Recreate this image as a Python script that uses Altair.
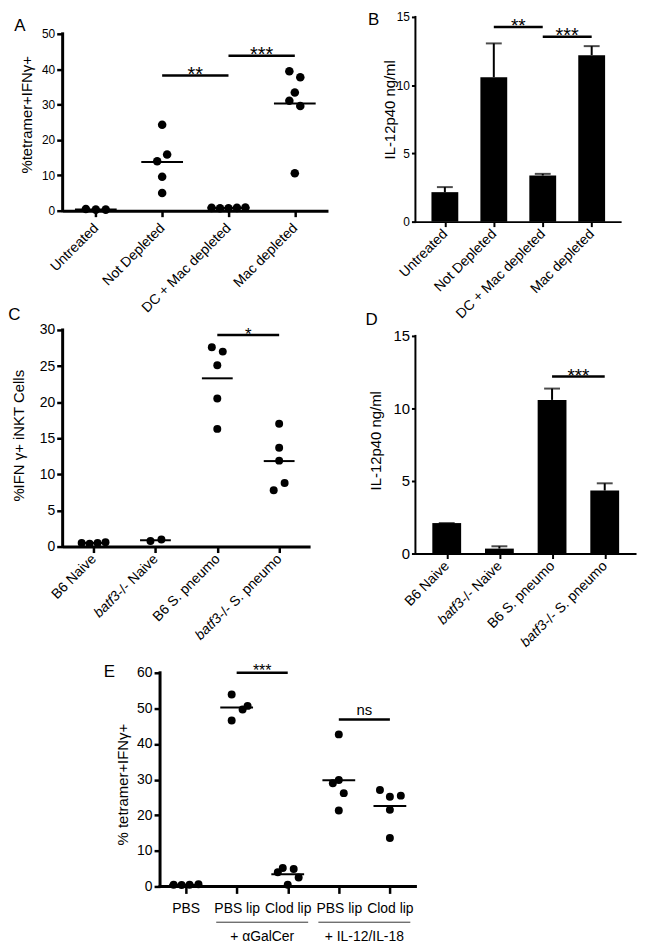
import json
import altair as alt
import pandas as pd

FONT = "Liberation Sans"
K = "#000000"

# ---------------- data ----------------
a_groups = ["Untreated", "Not Depleted", "DC + Mac depleted", "Mac depleted"]
a_values = [[0.5, 0.3, 0.3],
            [24.3, 15.9, 14.0, 9.6, 5.0],
            [0.8, 0.7, 0.7, 0.8, 0.9],
            [39.4, 37.7, 33.4, 31.1, 29.6, 10.6]]
a_slots = [[-1, 0, 1],
           [0, 0.5, -0.5, 0, 0],
           [-1.7, -0.85, 0, 0.85, 1.7],
           [-0.55, 0.55, 0, -0.55, 0.55, 0]]
a_ticks = [0, 10, 20, 30, 40, 50]
a_sig_from = [1, 2]
a_sig_to = [2, 3]
a_sig_y = [38.2, 43.8]
a_sig_text = ["**", "***"]

b_groups = ["Untreated", "Not Depleted", "DC + Mac depleted", "Mac depleted"]
b_means = [2.16, 10.58, 3.38, 12.2]
b_sem = [0.37, 2.48, 0.12, 0.66]
b_ticks = [0, 5, 10, 15]
b_sig_from = [1, 2]
b_sig_to = [2, 3]
b_sig_y = [14.27, 13.55]
b_sig_text = ["**", "***"]

c_groups = ["B6 Naive", "batf3-/- Naive", "B6 S. pneumo", "batf3-/- S. pneumo"]
c_values = [[0.5, 0.4, 0.5, 0.6],
            [0.78, 0.97],
            [27.6, 27.0, 25.1, 20.5, 16.3],
            [17.0, 13.7, 11.9, 8.8, 7.8]]
c_slots = [[-1.2, -0.4, 0.4, 1.2],
           [-0.5, 0.6],
           [-0.55, 0.55, 0, 0, 0],
           [0, 0, 0, 0.55, -0.55]]
c_ticks = [0, 5, 10, 15, 20, 25, 30]
c_sig_from = [2]
c_sig_to = [3]
c_sig_y = [29.3]
c_sig_text = ["*"]

d_groups = ["B6 Naive", "batf3-/- Naive", "B6 S. pneumo", "batf3-/- S. pneumo"]
d_means = [2.1, 0.34, 10.59, 4.34]
d_sem = [0.0, 0.16, 0.78, 0.5]
d_ticks = [0, 5, 10, 15]
d_sig_from = [2]
d_sig_to = [3]
d_sig_y = [12.2]
d_sig_text = ["***"]

e_groups = ["PBS", "PBS lip", "Clod lip", "PBS lip", "Clod lip"]
e_values = [[0.5, 0.4, 0.5, 0.6],
            [53.9, 50.7, 49.7, 46.6],
            [5.2, 4.9, 4.0, 2.5, 0.5],
            [42.7, 29.9, 29.0, 26.2, 21.3],
            [27.1, 25.2, 25.5, 21.5, 13.6]]
e_slots = [[-1.2, -0.4, 0.4, 1.3],
           [-0.5, 1.1, 0.6, -0.5],
           [-0.5, 0.6, -1.0, 1.1, 0],
           [0, 0, -0.6, 0.5, 0],
           [-1.0, 0, 1.1, 0, 0]]
e_ticks = [0, 10, 20, 30, 40, 50, 60]
e_sig_from = [1, 3]
e_sig_to = [2, 4]
e_sig_y = [60.0, 46.9]
e_sig_text = ["***", "ns"]
e_treat_text = ["+ \u03b1GalCer", "+ IL-12/IL-18"]
e_treat_from = [1, 3]
e_treat_to = [2, 4]

ITALIC_PREFIX = "batf3"

# Arial / Liberation Sans advance widths (1/1000 em) for label splitting
ARIAL = {'-': 333, '/': 278, ' ': 278, 'N': 722, 'a': 556, 'i': 222, 'v': 500,
         'e': 556, 'S': 667, '.': 278, 'p': 556, 'n': 556, 'u': 556, 'm': 833,
         'o': 556}


def text_w(s, size):
    return sum(ARIAL.get(c, 556) for c in s) * size / 1000.0


def one():
    return pd.DataFrame({"k": [0]})


def panel(letter, letter_xy, labels, width, height, ticks, y_top_px, y_title,
          title_xy, y_lab_size, x_lab_size, axis_w, y_tick_size, tick_w,
          x_tick_size, x_label_pad, sig, sig_font, sig_dy,
          left_pad_px=0, scatter=None, bars=None, rotated=True,
          dot_size=74, mean_len=40, treat=None):
    n = len(labels)
    step = (width - left_pad_px) / n
    lp = left_pad_px / step
    # y domain extended so the top tick sits y_top_px below the panel top
    y_dom_max = ticks[-1] * height / (height - y_top_px)
    xs = alt.Scale(domain=[-0.5 - lp, n - 0.5], nice=False, zero=False)
    ys = alt.Scale(domain=[0, y_dom_max], nice=False, zero=True)
    shown = [l[len(ITALIC_PREFIX):] if l.startswith(ITALIC_PREFIX) else l for l in labels]
    xa_kw = dict(values=list(range(n)),
                 labelExpr=json.dumps(shown, ensure_ascii=False) + "[datum.value]",
                 title=None, grid=False, domain=(left_pad_px == 0), domainWidth=axis_w,
                 domainColor=K, tickSize=x_tick_size, tickWidth=tick_w, tickColor=K,
                 labelFont=FONT, labelFontSize=x_lab_size, labelColor=K,
                 labelPadding=x_label_pad, labelFlush=False, labelOverlap=False)
    if rotated:
        xa_kw.update(labelAngle=-45, labelAlign="right", labelBaseline="middle")
    else:
        xa_kw.update(labelAngle=0, labelAlign="center", labelBaseline="top")
    xa = alt.Axis(**xa_kw)
    ya = alt.Axis(values=ticks, domain=False, grid=False, title=y_title,
                  tickSize=y_tick_size, tickWidth=tick_w, tickColor=K,
                  labelFont=FONT, labelFontSize=y_lab_size, labelColor=K,
                  labelPadding=2, labelFlush=False, labelOverlap=False,
                  titleFont=FONT, titleFontSize=15, titleFontWeight="normal",
                  titleColor=K, titleX=title_xy[0], titleY=title_xy[1],
                  titleAlign="center", titleBaseline="middle", titleAngle=270,
                  offset=-left_pad_px)

    def X(f):
        return alt.X(f, scale=xs, axis=xa)

    def Y(f):
        return alt.Y(f, scale=ys, axis=ya)

    layers = []
    if scatter is not None:
        vals, slots, dot_px = scatter
        rows = []
        for i, (vv, ss) in enumerate(zip(vals, slots)):
            for v, s in zip(vv, ss):
                rows.append({"idx": i, "value": v, "pos": i + s * dot_px / step})
        df = pd.DataFrame(rows)
        layers.append(alt.Chart(df).mark_circle(size=dot_size, color=K, opacity=1)
                      .encode(x=X("pos:Q"), y=Y("value:Q")))
        layers.append(alt.Chart(df).mark_tick(orient="horizontal", size=mean_len,
                                              thickness=2, color=K)
                      .encode(x=X("idx:Q"), y=Y("mean(value):Q")))
    if bars is not None:
        means, sems, bw = bars
        df = pd.DataFrame({"idx": list(range(n)), "value": means,
                           "top": [m + s for m, s in zip(means, sems)]})
        layers.append(alt.Chart(df).mark_rule(strokeWidth=2, color=K)
                      .encode(x=X("idx:Q"), y=Y("value:Q"), y2="top:Q"))
        layers.append(alt.Chart(df).mark_tick(orient="horizontal", size=16,
                                              thickness=2, color=K)
                      .encode(x=X("idx:Q"), y=Y("top:Q")))
        layers.append(alt.Chart(df).mark_bar(width=bw, color=K)
                      .encode(x=X("idx:Q"), y=Y("value:Q")))

    # y axis line
    dom = pd.DataFrame({"y0": [0], "y1": [ticks[-1]]})
    layers.append(alt.Chart(dom).mark_rule(strokeWidth=axis_w, color=K, strokeCap="square")
                  .encode(x=alt.value(left_pad_px), y=Y("y0:Q"), y2="y1:Q"))
    if left_pad_px:
        xd = pd.DataFrame({"x0": [-0.5], "x1": [n - 0.5]})
        layers.append(alt.Chart(xd).mark_rule(strokeWidth=axis_w, color=K, strokeCap="square")
                      .encode(x=X("x0:Q"), x2="x1:Q", y=alt.value(height)))

    # significance bars
    sf, st, sy, stext = sig
    sdf = pd.DataFrame({"x0": sf, "x1": st, "y": sy, "t": stext,
                        "xm": [(a + b) / 2 for a, b in zip(sf, st)]})
    layers.append(alt.Chart(sdf).mark_rule(strokeWidth=2.5, color=K)
                  .encode(x=X("x0:Q"), x2="x1:Q", y=Y("y:Q")))
    for t, fs, dy in zip(stext, sig_font, sig_dy):
        layers.append(alt.Chart(sdf[sdf.t == t]).mark_text(font=FONT, fontSize=fs,
                                                          baseline="alphabetic", dy=dy, color=K)
                      .encode(x=X("xm:Q"), y=Y("y:Q"), text="t:N"))

    # italic gene names in rotated labels
    if rotated:
        it = [(i, l) for i, l in enumerate(labels) if l.startswith(ITALIC_PREFIX)]
        for i, l in it:
            rest = l[len(ITALIC_PREFIX):]
            idf = pd.DataFrame({"idx": [i], "t": [ITALIC_PREFIX]})
            layers.append(alt.Chart(idf).mark_text(
                font=FONT, fontSize=x_lab_size, fontStyle="italic", angle=315,
                align="right", baseline="middle", dx=-text_w(rest, x_lab_size), color=K)
                .encode(x=X("idx:Q"), y=alt.value(height + x_tick_size + x_label_pad),
                        text="t:N"))

    # treatment group annotations under the axis
    if treat is not None:
        tt, tf, tto = treat
        tdf = pd.DataFrame({"x0": [a - 0.4 for a in tf], "x1": [b + 0.4 for b in tto],
                            "xm": [(a + b) / 2 for a, b in zip(tf, tto)], "t": tt})
        layers.append(alt.Chart(tdf).mark_rule(strokeWidth=1, color="#333333")
                      .encode(x=X("x0:Q"), x2="x1:Q", y=alt.value(height + 36)))
        layers.append(alt.Chart(tdf).mark_text(font=FONT, fontSize=14, baseline="middle",
                                               color=K)
                      .encode(x=X("xm:Q"), y=alt.value(height + 51), text="t:N"))

    # panel letter
    layers.append(alt.Chart(one()).mark_text(font=FONT, fontSize=17, baseline="middle",
                                             align="center", color=K)
                  .encode(x=alt.value(letter_xy[0]), y=alt.value(letter_xy[1]),
                          text=alt.value(letter)))
    return alt.layer(*layers).properties(width=width, height=height)


pA = panel("A", (-43, 9), a_groups, 267, 195, a_ticks, 17, "%tetramer+IFN\u03b3+",
           (-36, 98), 12, 14, 3, 6, 2.5, 6, 9,
           (a_sig_from, a_sig_to, a_sig_y, a_sig_text), [20, 20], [5, 5],
           scatter=(a_values, a_slots, 10), dot_size=74, mean_len=42)

pB = panel("B", (-42, 3), b_groups, 207, 206, b_ticks, 0, "IL-12p40 ng/ml",
           (-26, 93), 12, 14, 2, 4, 2, 5, 5,
           (b_sig_from, b_sig_to, b_sig_y, b_sig_text), [19, 20], [5, 5],
           bars=(b_means, b_sem, 27))

pC = panel("C", (-48.5, -15), c_groups, 249, 218, c_ticks, 0, "%IFN \u03b3+ iNKT Cells",
           (-44, 106), 14, 14, 3, 6, 2.5, 6, 4,
           (c_sig_from, c_sig_to, c_sig_y, c_sig_text), [17], [5],
           scatter=(c_values, c_slots, 10), dot_size=64, mean_len=31)

pD = panel("D", (-44, -10), d_groups, 222, 225, d_ticks, 6, "IL-12p40 ng/ml",
           (-40, 111), 15, 14, 2, 4, 2, 5, 5,
           (d_sig_from, d_sig_to, d_sig_y, d_sig_text), [19], [5],
           bars=(d_means, d_sem, 29))

pE = panel("E", (47, 10), e_groups, 355, 226, e_ticks, 11, "% tetramer+IFN\u03b3+",
           (-38, 123), 14, 14, 3, 6, 2.5, 7, 8,
           (e_sig_from, e_sig_to, e_sig_y, e_sig_text), [16, 15], [3, -4],
           left_pad_px=98, scatter=(e_values, e_slots, 10), rotated=False,
           dot_size=64, mean_len=33,
           treat=(e_treat_text, e_treat_from, e_treat_to))

chart = alt.concat(pA, pB, pC, pD, pE, columns=2, bounds="flush",
                   spacing={"row": 109, "column": 0}).properties(
    padding={"left": 0, "top": 0, "right": 5, "bottom": 5}
).configure(font=FONT).configure_view(stroke=None)

chart.save("out.html", embed_options={"renderer": "svg", "actions": False})
